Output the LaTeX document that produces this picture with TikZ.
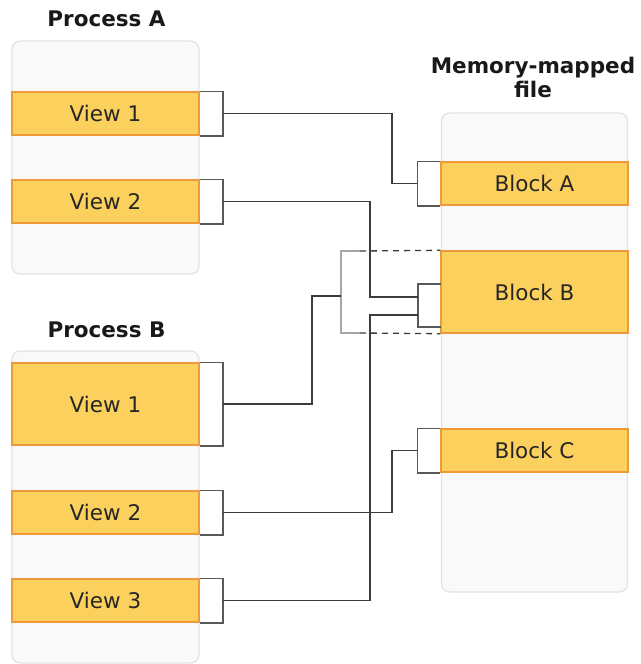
\documentclass[tikz,border=0pt]{standalone}
\usepackage{fontspec}
\setmainfont{DejaVu Sans}
\definecolor{viewfill}{HTML}{FCD05C}
\definecolor{viewline}{HTML}{EE9A3A}
\definecolor{panelfill}{HTML}{F9F9F9}
\definecolor{panelline}{HTML}{E2E2E2}
\definecolor{wirecol}{HTML}{3C3C3C}
\tikzset{
  panel/.style={draw=panelline,fill=panelfill,line width=1.2pt,rounded corners=8pt,inner sep=0pt,minimum width=187pt},
  view/.style={draw=viewline,fill=viewfill,line width=1.4pt,minimum width=187pt,inner sep=0pt,text=black!85,font=\fontsize{21.5}{24}\selectfont},
  title/.style={font=\fontsize{21.5}{24}\selectfont\bfseries,text=black!90,align=center,inner sep=0pt},
  brk/.style={draw=wirecol!85!white,line width=1.6pt},
  wire/.style={draw=wirecol,line width=1.3pt},
}
\begin{document}
\begin{tikzpicture}[x=1pt,y=-1pt]
\useasboundingbox (0,0) rectangle (640,664);
\node[panel,minimum height=233pt](pA) at (105.5,157.5){};
\node[panel,minimum height=312pt](pB) at (105.5,507){};
\node[panel,minimum height=479pt,minimum width=186pt](pM) at (534.5,352.5){};
\node[title,anchor=base](tA) at (106.5,26){Process A};
\node[title,anchor=base](tB) at (106.5,337){Process B};
\node[title](tM) at (533,77){Memory-mapped\\file};
\node[view,minimum height=43pt](a1) at (105.5,113.5){View 1};
\node[view,minimum height=43pt](a2) at (105.5,201.5){View 2};
\node[view,minimum height=82pt](b1) at (105.5,404){View 1};
\node[view,minimum height=43pt](b2) at (105.5,512.5){View 2};
\node[view,minimum height=43pt](b3) at (105.5,600.5){View 3};
\node[view,minimum height=43pt](kA) at (534.5,183.5){Block A};
\node[view,minimum height=82pt](kB) at (534.5,292){Block B};
\node[view,minimum height=43pt](kC) at (534.5,450.5){Block C};
\foreach \v in {a1,a2,b1,b2,b3}
  \draw[brk](\v.north east)--++(23,0)|-(\v.south east);
\foreach \v in {kA,kC}
  \draw[brk](\v.north west)--++(-23,0)|-(\v.south west);
\draw[brk](441,284)--(418,284)--(418,327)--(441,327);
\draw[brk,draw=gray!70](360,251)--(341,251)--(341,333)--(360,333);
\draw[wire,dash pattern=on 6pt off 5pt](360,251)--(kB.north west);
\draw[wire,dash pattern=on 6pt off 5pt](360,333)--(kB.south west);
\draw[wire]([xshift=23pt]a1.east)-|(392,183.5)--([xshift=-23pt]kA.west);
\draw[wire]([xshift=23pt]a2.east)-|(370,297)--(418,297);
\draw[wire]([xshift=23pt]b1.east)-|(312,296)--(341,296);
\draw[wire]([xshift=23pt]b2.east)-|(392,450.5)--([xshift=-23pt]kC.west);
\draw[wire]([xshift=23pt]b3.east)-|(370,315)--(418,315);
\end{tikzpicture}
\end{document}
